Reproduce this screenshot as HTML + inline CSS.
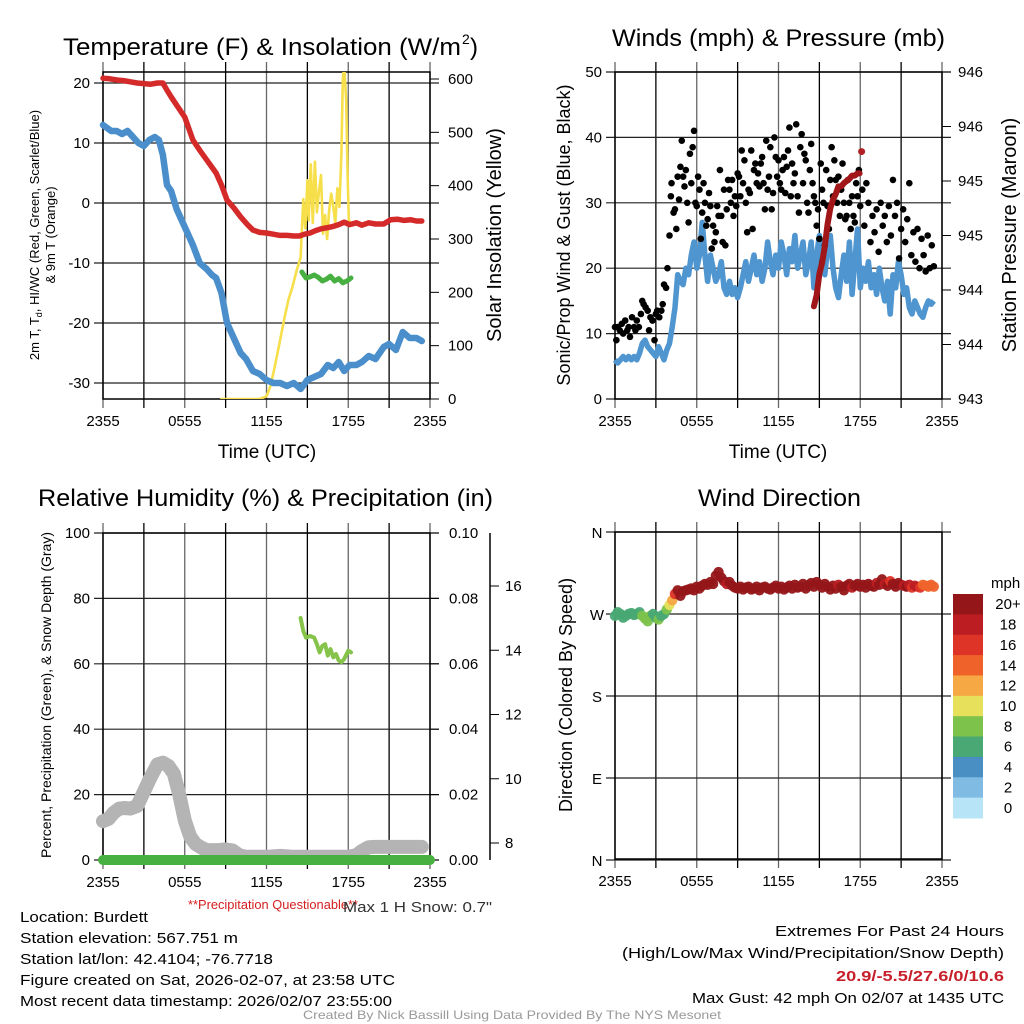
<!DOCTYPE html>
<html><head><meta charset="utf-8">
<style>
html,body{margin:0;padding:0;background:#fff;}
svg{display:block;font-family:"Liberation Sans",sans-serif;}
</style></head>
<body>
<svg id="chart" width="1024" height="1024" viewBox="0 0 1024 1024" xmlns="http://www.w3.org/2000/svg">
<g id="pTL"></g>
<g id="pTR"></g>
<g id="pBL"></g>
<g id="pBR"></g>

<text x="63" y="55" font-size="24" textLength="398" lengthAdjust="spacingAndGlyphs">Temperature (F) &amp; Insolation (W/m</text>
<text x="462" y="44" font-size="14">2</text>
<text x="470" y="55" font-size="24">)</text>
<text x="612" y="46" font-size="24" textLength="333" lengthAdjust="spacingAndGlyphs">Winds (mph) &amp; Pressure (mb)</text>
<text x="38" y="506" font-size="24" textLength="455" lengthAdjust="spacingAndGlyphs">Relative Humidity (%) &amp; Precipitation (in)</text>
<text x="698" y="506" font-size="24" textLength="163" lengthAdjust="spacingAndGlyphs">Wind Direction</text>

<text x="188" y="909" font-size="13" fill="#d42020" textLength="170" lengthAdjust="spacingAndGlyphs">**Precipitation Questionable**</text>
<text x="343" y="912" font-size="15" fill="#333" textLength="149" lengthAdjust="spacingAndGlyphs">Max 1 H Snow: 0.7"</text>

<g font-size="15">
<text x="20" y="922" textLength="128" lengthAdjust="spacingAndGlyphs">Location: Burdett</text>
<text x="20" y="943" textLength="218" lengthAdjust="spacingAndGlyphs">Station elevation: 567.751 m</text>
<text x="20" y="964" textLength="253" lengthAdjust="spacingAndGlyphs">Station lat/lon: 42.4104; -76.7718</text>
<text x="20" y="985" textLength="375" lengthAdjust="spacingAndGlyphs">Figure created on Sat, 2026-02-07, at 23:58 UTC</text>
<text x="20" y="1006" textLength="372" lengthAdjust="spacingAndGlyphs">Most recent data timestamp: 2026/02/07 23:55:00</text>
</g>
<g font-size="15" text-anchor="end">
<text x="1004" y="936" textLength="229" lengthAdjust="spacingAndGlyphs">Extremes For Past 24 Hours</text>
<text x="1004" y="958" textLength="382" lengthAdjust="spacingAndGlyphs">(High/Low/Max Wind/Precipitation/Snow Depth)</text>
<text x="1004" y="981" fill="#c8202a" font-weight="bold" textLength="168" lengthAdjust="spacingAndGlyphs">20.9/-5.5/27.6/0/10.6</text>
<text x="1004" y="1003" textLength="312" lengthAdjust="spacingAndGlyphs">Max Gust: 42 mph On 02/07 at 1435 UTC</text>
</g>
<text x="512" y="1019" font-size="12" fill="#999" text-anchor="middle" textLength="418" lengthAdjust="spacingAndGlyphs">Created By Nick Bassill Using Data Provided By The NYS Mesonet</text>
</svg>
<script>
// ---------- data ----------
const timeTicks = ["2355","0555","1155","1755","2355"];
const tempH = [0,0.5,1,1.5,2,2.5,3,3.5,4,4.4,4.7,5.0,5.5,6.0,6.6,7.1,7.6,8.3,8.7,9.1,9.6,10.1,10.6,11.0,11.5,12.0,12.5,13.0,13.5,14.0,14.4,14.8,15.2,15.6,16.0,16.5,16.9,17.3,17.7,18.1,18.6,19.0,19.5,20.0,20.6,21.1,21.6,22.1,22.6,23.0,23.4];
const tempV = [20.8,20.7,20.5,20.4,20.2,20.0,19.9,19.8,20.0,20.0,18.8,17.7,16.0,14.3,10.5,8.8,7.2,5.0,3.0,0.5,-0.8,-2.3,-3.6,-4.5,-4.9,-5.0,-5.2,-5.4,-5.4,-5.5,-5.5,-5.2,-5.0,-4.6,-4.3,-4.1,-3.9,-3.6,-3.2,-3.6,-3.3,-3.7,-3.3,-3.5,-3.5,-2.8,-2.7,-2.9,-2.8,-3.0,-3.0];
const dewH = [0,0.3,0.6,1,1.4,1.8,2.2,2.6,3,3.4,3.8,4.1,4.4,4.7,5.0,5.4,5.8,6.2,6.6,7.1,7.6,8.0,8.3,8.7,9.1,9.5,10.1,10.5,11.0,11.5,12.0,12.5,13.0,13.5,14.0,14.5,15.0,15.5,16.0,16.5,16.9,17.3,17.7,18.1,18.6,19.0,19.5,20.0,20.6,21.0,21.5,22.0,22.5,23.0,23.4];
const dewV = [13,12.5,12,12,11.5,12,11,10,9.5,10.5,11,10.5,8,3,2,-1,-3,-5,-7,-10,-11,-12,-12.5,-15,-20,-22,-25,-26,-28,-28.5,-29.5,-30,-30,-30.5,-30,-31,-29.5,-29,-28.5,-27,-27.5,-26.5,-28,-27,-27,-26.5,-25.5,-26,-24,-23.5,-24.5,-21.5,-22.5,-22.5,-23];
const hiwcH = [14.6,14.9,15.2,15.5,15.8,16.1,16.4,16.7,17.0,17.3,17.6,17.9,18.2];
const hiwcV = [-11.5,-12.5,-12.3,-12.0,-12.4,-13.0,-12.7,-12.2,-13.0,-12.6,-13.3,-13.0,-12.5];
const solarH = [8.6,9.5,10.5,11.5,12.0,12.3,12.6,13.0,13.3,13.6,13.9,14.2,14.5,14.7,14.85,15.0,15.1,15.25,15.4,15.55,15.7,15.85,16.0,16.15,16.3,16.45,16.6,16.75,16.9,17.05,17.2,17.35,17.5,17.6,17.7,17.85,17.95,18.05,18.15];
const solarV = [0,0,0,0,5,25,60,110,150,185,210,240,265,375,320,410,335,440,330,445,350,390,420,310,345,300,355,385,360,330,395,360,460,600,625,560,420,330,335];
const windH0 = 0, windStep = 0.2;
const windV = [6,5.5,6,6.5,6,6.5,6,6.5,6,7,8.5,9,8,7.5,7,6.5,8,7,6,7.5,8.5,11,14,19,18,17.5,20,19,22,24,20,22,27,22,18,22,20,18,19,21,17,16,18,16,17,15.5,17,19,21,18,20,22,19,21,18,20,24,21,19,22,20,24,22,19,23,21,25,20,22,24,19,21,24,17,22,25,21,19,23,25,20,17,15.5,19,22,18,24,16,21,26,17,20,18,21,17,19,16,20,17,15,18,13,19,17,21,19,16,17,14,13,15,14,13,12.5,14,15,14.5,15];
const dirSpeed = [7,6.5,7,7,6.5,7,7,6.5,7,7.5,8.5,9,8,8.5,7.5,7,8.5,7.5,7,9,10,13,16,20,21,20,22,21,23,24,22,23,27,24,20,23,22,20,21,22,20,19,21,20,21,20,21,22,23,21,22,24,21,23,21,22,25,23,21,24,22,25,24,21,24,23,26,22,23,25,21,23,25,20,23,26,23,21,24,26,22,20,19,21,23,20,25,19,22,26,20,22,21,23,20,21,19,22,20,18,21,17,21,20,22,21,19,20,18,17,19,18,16,14,15,14,14,14];
const dirV = [268,272,270,266,268,270,271,269,270,272,268,265,262,268,270,266,264,268,270,275,280,285,292,296,290,295,296,297,298,296,300,298,301,303,302,305,303,312,316,310,306,303,305,301,299,298,300,297,299,300,297,298,300,296,299,300,298,297,299,301,298,300,297,299,301,298,302,299,300,303,298,301,304,300,305,302,299,303,300,297,301,298,302,300,296,301,303,299,301,303,300,302,299,303,301,300,304,302,308,303,301,306,303,300,304,302,301,300,302,299,301,300,299,302,301,300,302,300];
const gustH = [0.0,0.1,0.2,0.35,0.5,0.6,0.75,0.9,1.0,1.1,1.25,1.4,1.5,1.6,1.75,1.9,2.0,2.1,2.25,2.4,2.5,2.6,2.75,2.9,3.0,3.1,3.25,3.4,3.5,3.6,3.75,3.85,4.0,4.1,4.15,4.3,4.4,4.5,4.6,4.7,4.8,4.9,5.0,5.1,5.2,5.3,5.4,5.5,5.6,5.7,5.8,5.9,6.0,6.1,6.2,6.3,6.4,6.5,6.6,6.7,6.8,6.9,7.0,7.1,7.2,7.3,7.4,7.5,7.6,7.7,7.8,7.9,8.0,8.1,8.2,8.3,8.4,8.5,8.6,8.7,8.8,8.9,9.0,9.1,9.2,9.3,9.4,9.5,9.6,9.7,9.8,9.9,10.0,10.1,10.2,10.3,10.4,10.5,10.6,10.7,10.8,10.9,11.0,11.1,11.2,11.3,11.4,11.5,11.6,11.7,11.8,11.9,12.0,12.1,12.2,12.3,12.4,12.5,12.6,12.7,12.8,12.9,13.0,13.1,13.2,13.3,13.4,13.5,13.6,13.7,13.8,13.9,14.0,14.1,14.2,14.3,14.4,14.5,14.6,14.7,14.8,14.9,15.0,15.1,15.2,15.3,15.4,15.5,15.6,15.7,15.8,15.9,16.0,16.1,16.2,16.3,16.4,16.5,16.6,16.7,16.8,16.9,17.0,17.1,17.2,17.3,17.4,17.5,17.6,17.7,17.8,17.9,18.0,18.15,18.3,18.45,18.6,18.75,18.9,19.05,19.2,19.35,19.5,19.65,19.8,19.95,20.1,20.25,20.4,20.55,20.7,20.85,21.0,21.15,21.3,21.45,21.6,21.75,21.9,22.05,22.2,22.35,22.5,22.65,22.8,22.95,23.1,23.25,23.4];
const gustV = [11,9,11,10.5,11.5,10,12,10.5,11,9.5,12.5,11,10.5,12,11,13,15,14.5,14,13.5,10.5,12.5,12,9,13,13.5,12.5,13.5,14.5,17.5,17,20,25,31,33,28.5,29,26,34,30.5,35.5,39.5,34,32.5,35,30,27,37.5,33,38.5,41,30,29.5,34,32,24.5,28.5,33,30,26.5,27.5,31.5,29.5,23,26.5,24,25.5,29.5,28,35,28,24,32,23.5,29,33.5,32,30,33.5,28,31,29.5,34.5,34,31,38,33,36.5,30,25.5,32,31.5,38,26,35,36,33,34.5,32.5,36,37,33,29,39.5,32,34,38.5,29,31.5,40,37,34,36.5,33,32,35,37,31.5,35.5,38,41.5,31,36,33,34.5,42,31,28.5,38.5,40.5,33,37.5,36.5,30,28.5,35,39,33,31,30,26.5,29,24.5,36,32,30,23.5,35,29.5,26,33.5,38.5,31,36.5,33.5,30,34,28,32,36,30,27.5,28,33.5,30,26,31,28,27,33,31,35,29.5,32,26.5,33,30,24,28,25.5,29,22.5,30,26.5,28,24,29.5,25,33.5,28,30,21.5,26,29,24,27.5,33,22,25.5,21,26,20,24.5,22,19.5,25,20,23.5,20.3];
const presH = [14.6,14.8,15.0,15.2,15.4,15.6,15.8,16.0,16.2,16.4,16.6,16.8,17.0,17.2,17.4,17.6,17.8,17.95];
const presV = [943.85,943.95,944.15,944.25,944.4,944.6,944.75,944.83,944.88,944.95,944.95,944.98,945.0,945.02,945.05,945.05,945.07,945.07];
const presDotH = [18.1];
const presDotV = [945.27];
const pressureTicks = ["943","944","944","945","945","946","946"];
const rhH = [14.5,14.7,14.9,15.2,15.5,15.7,15.9,16.1,16.3,16.5,16.7,16.9,17.1,17.3,17.5,17.7,18.0,18.2];
const rhV = [74,70,68,68.5,68,66,63.5,65.5,66,62.5,64.5,62,63,61,60.5,61.5,64,63.5];
const snowH = [0,0.4,0.8,1.2,1.6,2.0,2.5,3.0,3.5,4.0,4.4,4.8,5.2,5.6,6.0,6.4,6.8,7.2,7.6,8.0,8.5,9.0,9.5,10.0,10.5,11.0,12,13,14,15,16,17,18,18.6,19,19.5,20,21,22,23,23.4];
const snowV = [8.68,8.75,8.95,9.07,9.09,9.07,9.15,9.6,10.05,10.45,10.5,10.4,10.15,9.5,8.7,8.2,7.97,7.86,7.78,7.78,7.78,7.8,7.77,7.62,7.57,7.57,7.57,7.6,7.57,7.57,7.57,7.57,7.57,7.62,7.75,7.87,7.88,7.88,7.88,7.88,7.88];
const precipH = [0,24];
const precipV = [0,0];
const rhTicks = [0,20,40,60,80,100];
const precipTicks = ["0.00","0.02","0.04","0.06","0.08","0.10"];
const snowTicks = [8,10,12,14,16];
const dirLabels = ["N","E","S","W","N"];
const speedLabels = ["0","2","4","6","8","10","12","14","16","18","20+"];
const speedColors = ["#b8e4f7","#7fbbe3","#4a8fc4","#49a874","#7cc24b","#e6e05a","#f5a843","#ef632a","#de3427","#bb1d23","#951619"];

// ---------- helpers ----------
const NS="http://www.w3.org/2000/svg";
function mk(parent,tag,attrs,txt){const e=document.createElementNS(NS,tag);for(const k in attrs)e.setAttribute(k,attrs[k]);if(txt!==undefined)e.textContent=txt;parent.appendChild(e);return e;}
const PW=327;
function xs(x0){return h=>x0+h/24*PW;}
function lin(d0,d1,r0,r1){return v=>r0+(v-d0)/(d1-d0)*(r1-r0);}
function pathD(H,V,fx,fy){return H.map((h,i)=>(i?"L":"M")+fx(h).toFixed(1)+","+fy(V[i]).toFixed(1)).join("");}

function frame(g,x0,y0,hGridYs,pfx){
  const y1=y0+327;
  for(let i=0;i<=8;i++){const x=x0+i*PW/8;
    const l=mk(g,"line",{x1:x,x2:x,y1:y0-10,y2:y1+9,stroke:i%2?"#000":"#666","stroke-width":1.3});
    
    }
  hGridYs.forEach(y=>{const l=mk(g,"line",{x1:x0-9,x2:x0+PW+9,y1:y,y2:y,stroke:"#222","stroke-width":1.2});
    
    });
  const b=mk(g,"rect",{x:x0,y:y0,width:PW,height:327,fill:"none",stroke:"#000","stroke-width":1.5});
  
  
  timeTicks.forEach((t,i)=>{const tx=mk(g,"text",{x:x0+i*PW/4,y:y1+27,"font-size":15,"text-anchor":"middle"},t);
    
    });
}
function ylab(g,x,y,txt,size,name){const t=mk(g,"text",{transform:`translate(${x},${y}) rotate(-90)`,"font-size":size,"text-anchor":"middle"},txt);
  
  return t;}

// ---------- Panel TL ----------
(function(){
  const g=document.getElementById("pTL");const x0=103,y0=72;const fx=xs(x0);
  const fy=lin(20,-30,83,383);const fs=lin(0,600,399,79);
  frame(g,x0,y0,[-30,-20,-10,0,10,20].map(fy),"temp");
  [-30,-20,-10,0,10,20].forEach(v=>{const t=mk(g,"text",{x:x0-13,y:fy(v)+5,"font-size":15,"text-anchor":"end"},v);
    
    });
  [0,100,200,300,400,500,600].forEach(v=>{const t=mk(g,"text",{x:448,y:fs(v)+5,"font-size":15},v);
    
    
    const l=mk(g,"line",{x1:430,x2:439,y1:fs(v),y2:fs(v),stroke:"#000"});
    
    });
  const cp=mk(g,"clipPath",{id:"cTL"});mk(cp,"rect",{x:x0,y:y0,width:PW,height:327});
  const s=mk(g,"path",{d:pathD(solarH,solarV,fx,fs),fill:"none",stroke:"#f6df4a","stroke-width":2.6,"clip-path":"url(#cTL)","stroke-linejoin":"round"});
  
  
  const d=mk(g,"path",{d:pathD(dewH,dewV,fx,fy),fill:"none",stroke:"#4a8fcb","stroke-width":6.5,"stroke-linejoin":"round","stroke-linecap":"round"});
  
  
  const t=mk(g,"path",{d:pathD(tempH,tempV,fx,fy),fill:"none",stroke:"#d42a2a","stroke-width":5.5,"stroke-linejoin":"round","stroke-linecap":"round"});
  
  
  const w=mk(g,"path",{d:pathD(hiwcH,hiwcV,fx,fy),fill:"none",stroke:"#47b041","stroke-width":5,"stroke-linejoin":"round","stroke-linecap":"round"});
  
  
  const a=mk(g,"text",{x:267,y:458,"font-size":19,"text-anchor":"middle"},"Time (UTC)");
  
  
  const yl=ylab(g,39,235,"2m T, T",13,'temp-y-axis-title');
  const sub=mk(yl,"tspan",{"font-size":9,dy:3},"d");
  
  
  const rest=mk(yl,"tspan",{dy:-3},", HI/WC (Red, Green, Scarlet/Blue)");
  
  
  ylab(g,55,235,"& 9m T (Orange)",13,'temp-y-axis-title-line2');
  ylab(g,501,235,"Solar Insolation (Yellow)",20,'solar-y-axis-title');
})();

// ---------- Panel TR ----------
(function(){
  const g=document.getElementById("pTR");const x0=615,y0=72;const fx=xs(x0);
  const fy=lin(0,50,399,72);const fp=lin(943,946,399,72);
  frame(g,x0,y0,[0,10,20,30,40,50].map(fy),"wind");
  [0,10,20,30,40,50].forEach(v=>{const t=mk(g,"text",{x:x0-13,y:fy(v)+5,"font-size":15,"text-anchor":"end"},v);
    
    });
  pressureTicks.forEach((p,i)=>{const y=399-i*327/6;const t=mk(g,"text",{x:958,y:y+5,"font-size":15},p);
    
    
    const l=mk(g,"line",{x1:942,x2:951,y1:y,y2:y,stroke:"#000"});
    
    });
  const w=mk(g,"path",{d:pathD(windV.map((v,i)=>windH0+i*windStep),windV,fx,fy),fill:"none",stroke:"#4f95d0","stroke-width":5.5,"stroke-linejoin":"round"});
  
  
  gustH.forEach((h,i)=>{const c=mk(g,"circle",{cx:fx(h),cy:fy(gustV[i]),r:3.3,fill:"#000"});
    
    });
  const p=mk(g,"path",{d:pathD(presH,presV,fx,fp),fill:"none",stroke:"#a01619","stroke-width":6,"stroke-linejoin":"round","stroke-linecap":"round"});
  
  
  presDotH.forEach((h,i)=>{const c=mk(g,"circle",{cx:fx(h),cy:fp(presDotV[i]),r:3.5,fill:"#b02024"});
    
    });
  const a=mk(g,"text",{x:778,y:458,"font-size":19,"text-anchor":"middle"},"Time (UTC)");
  
  
  ylab(g,570,235,"Sonic/Prop Wind & Gust (Blue, Black)",18,'wind-y-axis-title');
  ylab(g,1016,235,"Station Pressure (Maroon)",20,'pressure-y-axis-title');
})();

// ---------- Panel BL ----------
(function(){
  const g=document.getElementById("pBL");const x0=103,y0=533;const fx=xs(x0);
  const fy=lin(0,100,860,533);const fq=lin(0,0.1,860,533);const fsn=lin(8,16,843,586);
  frame(g,x0,y0,rhTicks.map(fy),"rh");
  rhTicks.forEach(v=>{const t=mk(g,"text",{x:x0-13,y:fy(v)+5,"font-size":15,"text-anchor":"end"},v);
    
    });
  precipTicks.forEach((p,i)=>{const y=fq(+p);const t=mk(g,"text",{x:449,y:y+5,"font-size":15},p);
    
    
    const l=mk(g,"line",{x1:430,x2:439,y1:y,y2:y,stroke:"#000"});
    
    });
  const ax=mk(g,"line",{x1:490,x2:490,y1:533,y2:860,stroke:"#000","stroke-width":1.5});
  
  
  snowTicks.forEach(v=>{const y=fsn(v);const t=mk(g,"text",{x:505,y:y+5,"font-size":15},v);
    
    
    const l=mk(g,"line",{x1:490,x2:499,y1:y,y2:y,stroke:"#000"});
    
    });
  const sn=mk(g,"path",{d:pathD(snowH,snowV,fx,fsn),fill:"none",stroke:"#b4b4b4","stroke-width":14,"stroke-linejoin":"round","stroke-linecap":"round"});
  
  
  const pr=mk(g,"path",{d:pathD(precipH,precipV,fx,fq),fill:"none",stroke:"#47b041","stroke-width":10,"stroke-linecap":"round"});
  
  
  const rh=mk(g,"path",{d:pathD(rhH,rhV,fx,fy),fill:"none",stroke:"#86c34a","stroke-width":4,"stroke-linejoin":"round","stroke-linecap":"round"});
  
  
  ylab(g,51,695,"Percent, Precipitation (Green), & Snow Depth (Gray)",14,'rh-y-axis-title');
})();

// ---------- Panel BR ----------
(function(){
  const g=document.getElementById("pBR");const x0=615,y0=532;const fx=xs(x0);
  const fy=lin(0,360,860,532);
  frame(g,x0,y0,[0,90,180,270,360].map(fy),"dir");
  dirLabels.forEach((l,i)=>{const t=mk(g,"text",{x:597,y:fy(i*90)+6,"font-size":15,"text-anchor":"middle"},l);
    
    });
  dirV.forEach((d,i)=>{const sp=dirSpeed[i];const ci=Math.min(10,Math.max(0,Math.floor(sp/2)));
    const c=mk(g,"circle",{cx:fx(windH0+i*windStep),cy:fy(d),r:5.2,fill:speedColors[ci],"fill-opacity":0.95});
    
    });
  ylab(g,572,695,"Direction (Colored By Speed)",18,'direction-y-axis-title');
  const ut=mk(g,"text",{x:991,y:588,"font-size":15},"mph");
  
  
  const bh=224/11;
  speedLabels.forEach((lab,i)=>{const k=10-i;const y=594+i*bh;
    const r=mk(g,"rect",{x:953,y:y,width:30,height:bh+0.5,fill:speedColors[k]});
    
    
    const t=mk(g,"text",{x:1008,y:y+bh/2+5,"font-size":15,"text-anchor":"middle"},speedLabels[k]);
    
    });
})();
</script>
</body></html>
